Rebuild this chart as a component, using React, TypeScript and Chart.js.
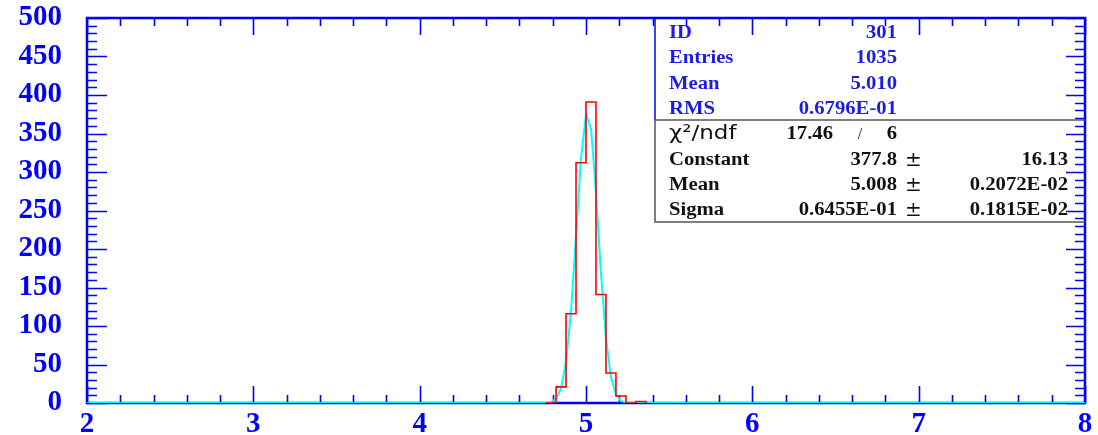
import React, { useEffect, useRef } from 'react';
import { Chart, registerables } from 'chart.js';

Chart.register(...registerables);

// Histogram (ID 301): bin edges and counts, bin width 0.06
const binEdges = [4.76, 4.82, 4.88, 4.94, 5.0, 5.06, 5.12, 5.18, 5.24, 5.3, 5.36];
const binCounts = [0, 21, 116, 312, 391, 141, 39, 9, 0, 2];

// Gaussian fit curve as drawn (sampled points)
const fitX = [2.0, 4.7, 4.73, 4.76, 4.79, 4.82, 4.85, 4.88, 4.91, 4.94, 4.97, 5.0, 5.03, 5.06, 5.09, 5.12, 5.15, 5.18, 5.21, 5.24, 5.27, 5.3, 8.0];
const fitY = [0, 0, 0.04, 0.24, 1.3, 5.4, 18.9, 52.9, 119.3, 216.9, 317.7, 374.9, 356.5, 273.1, 168.6, 83.9, 33.6, 10.9, 2.8, 0.6, 0.1, 0, 0];

// Axis ticks
const xMin = 2;
const xMax = 8;
const yMin = 0;
const yMax = 500;
const xMajorStep = 1;
const xMinorStep = 0.2;
const yMajorStep = 50;
const yMinorStep = 10;

// Statistics box
const statLabels = ['ID', 'Entries', 'Mean', 'RMS'];
const statValues = ['301', '1035', '5.010', '0.6796E-01'];
const chi2Value = '17.46';
const ndfValue = '6';
const fitLabels = ['Constant', 'Mean', 'Sigma'];
const fitValues = ['377.8', '5.008', '0.6455E-01'];
const fitErrors = ['16.13', '0.2072E-02', '0.1815E-02'];

const BLUE = '#0000ff';
const STAT_BLUE = '#1c1ce6';
const SERIF_BOLD = 'bold 18px "Liberation Serif", "Times New Roman", serif';

function drawText(ctx: CanvasRenderingContext2D, text: string, x: number, y: number, align: CanvasTextAlign, sx = 1.15) {
  ctx.save();
  ctx.translate(x, y);
  ctx.scale(sx, 1);
  ctx.textAlign = align;
  ctx.textBaseline = 'alphabetic';
  ctx.fillText(text, 0, 0);
  ctx.restore();
}

const framePlugin = {
  id: 'hbookFrame',
  beforeDatasetsDraw(chart: any) {
    const { ctx, chartArea, scales } = chart;
    const { left, right, top, bottom } = chartArea;
    const xs = scales.x;
    const ys = scales.y;
    ctx.save();
    ctx.strokeStyle = BLUE;
    ctx.lineWidth = 1.6;
    ctx.beginPath();
    const nx = Math.round((xMax - xMin) / xMinorStep);
    for (let i = 0; i <= nx; i++) {
      const v = xMin + i * xMinorStep;
      const major = Math.abs(v / xMajorStep - Math.round(v / xMajorStep)) < 1e-6;
      const px = Math.round(xs.getPixelForValue(v)) + 0.5;
      const len = major ? 17 : 8;
      ctx.moveTo(px, bottom);
      ctx.lineTo(px, bottom - len);
      ctx.moveTo(px, top);
      ctx.lineTo(px, top + len);
    }
    const ny = Math.round((yMax - yMin) / yMinorStep);
    for (let i = 0; i <= ny; i++) {
      const v = yMin + i * yMinorStep;
      const major = v % yMajorStep === 0;
      const py = Math.round(ys.getPixelForValue(v)) + 0.5;
      ctx.moveTo(left, py);
      ctx.lineTo(left + (major ? 20 : 10), py);
      ctx.moveTo(right, py);
      ctx.lineTo(right - (major ? 19 : 10), py);
    }
    ctx.stroke();
    ctx.lineWidth = 2.5;
    ctx.strokeRect(left, top, right - left, bottom - top);
    ctx.restore();
  },
  afterDatasetsDraw(chart: any) {
    const { ctx, chartArea } = chart;
    const { right, top } = chartArea;
    const boxLeft = 655;
    const divY = 120;
    const boxBottom = 222;
    ctx.save();
    ctx.lineWidth = 1.5;
    ctx.strokeStyle = BLUE;
    ctx.beginPath();
    ctx.moveTo(boxLeft, top);
    ctx.lineTo(boxLeft, divY);
    ctx.stroke();
    ctx.strokeStyle = '#555555';
    ctx.beginPath();
    ctx.moveTo(boxLeft, divY);
    ctx.lineTo(right, divY);
    ctx.moveTo(boxLeft, divY);
    ctx.lineTo(boxLeft, boxBottom);
    ctx.lineTo(right, boxBottom);
    ctx.stroke();

    const labelX = 669;
    const valueX = 897;
    const pmX = 905;
    const errX = 1068;
    const upperBase = [37.7, 63.3, 89, 114];
    const lowerBase = [164.5, 190, 215];

    ctx.font = SERIF_BOLD;
    ctx.fillStyle = STAT_BLUE;
    statLabels.forEach((l, i) => {
      drawText(ctx, l, labelX, upperBase[i], 'left');
      drawText(ctx, statValues[i], valueX, upperBase[i], 'right');
    });

    ctx.fillStyle = '#111111';
    ctx.font = '20px "DejaVu Sans", sans-serif';
    drawText(ctx, 'χ²/ndf', labelX, 139, 'left', 1.15);
    ctx.font = SERIF_BOLD;
    drawText(ctx, chi2Value, 833, 139, 'right');
    ctx.font = '16px "Liberation Serif", serif';
    drawText(ctx, '/', 860, 139, 'center', 1);
    ctx.font = SERIF_BOLD;
    drawText(ctx, ndfValue, valueX, 139, 'right');

    fitLabels.forEach((l, i) => {
      ctx.font = SERIF_BOLD;
      drawText(ctx, l, labelX, lowerBase[i], 'left');
      drawText(ctx, fitValues[i], valueX, lowerBase[i], 'right');
      drawText(ctx, fitErrors[i], errX, lowerBase[i], 'right');
      ctx.font = '20px "DejaVu Serif", serif';
      drawText(ctx, '±', pmX, lowerBase[i] + 1, 'left', 1);
    });
    ctx.restore();
  },
};

export default function App() {
  const canvasRef = useRef<HTMLCanvasElement | null>(null);

  useEffect(() => {
    document.body.style.margin = '0';
    const canvas = canvasRef.current;
    if (!canvas) return;

    const histData = binEdges.map((e, i) => ({ x: e, y: i < binCounts.length ? binCounts[i] : 0 }));
    const fitData = fitX.map((x, i) => ({ x, y: fitY[i] }));

    const tickFont = { family: '"Liberation Serif", "Times New Roman", serif', size: 29, weight: 'bold' as const };

    const chart = new Chart(canvas, {
      type: 'line',
      data: {
        datasets: [
          {
            label: 'histogram',
            data: histData,
            borderColor: '#ff0000',
            borderWidth: 1.6,
            stepped: 'before',
            pointRadius: 0,
            fill: false,
            tension: 0,
          },
          {
            label: 'fit',
            data: fitData,
            borderColor: '#00ffff',
            borderWidth: 2,
            pointRadius: 0,
            fill: false,
            tension: 0,
          },
        ],
      },
      options: {
        animation: false,
        responsive: true,
        maintainAspectRatio: false,
        layout: { padding: { top: 18, right: 13, left: 0, bottom: 0 } },
        plugins: {
          legend: { display: false },
          tooltip: { enabled: false },
          title: { display: false },
        },
        scales: {
          x: {
            type: 'linear',
            min: xMin,
            max: xMax,
            grid: { display: false, drawTicks: false },
            border: { display: false },
            ticks: {
              stepSize: xMajorStep,
              color: BLUE,
              font: tickFont,
              padding: 4,
              maxRotation: 0,
              autoSkip: false,
            },
            afterFit: (scale: any) => {
              scale.height = 32;
              scale.paddingLeft = 0;
              scale.paddingRight = 0;
            },
          },
          y: {
            type: 'linear',
            min: yMin,
            max: yMax,
            grid: { display: false, drawTicks: false },
            border: { display: false },
            ticks: {
              stepSize: yMajorStep,
              color: BLUE,
              font: tickFont,
              padding: 25,
              autoSkip: false,
            },
            afterFit: (scale: any) => {
              scale.width = 87;
              scale.paddingTop = 0;
              scale.paddingBottom = 0;
            },
          },
        },
      },
      plugins: [framePlugin],
    });

    return () => {
      chart.destroy();
    };
  }, []);

  return (
    <div style={{ position: 'absolute', left: 0, top: 0, width: 1098, height: 435, background: '#ffffff' }}>
      <canvas ref={canvasRef} />
    </div>
  );
}
